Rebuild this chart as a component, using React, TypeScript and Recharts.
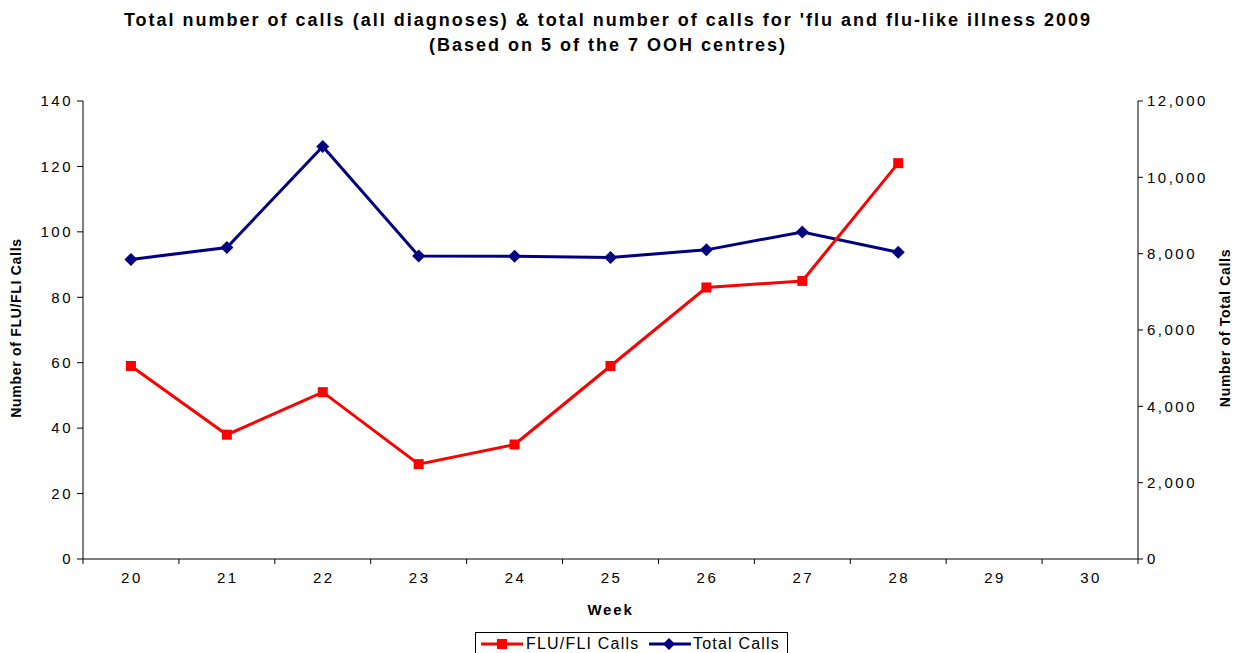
import React from 'react';
import { LineChart, Line, XAxis, YAxis } from 'recharts';

// Week numbers on the category axis
const WEEKS = [20, 21, 22, 23, 24, 25, 26, 27, 28, 29, 30];
// Tick marks sit between the weeks (Excel style)
const WEEK_BOUNDARIES = [19.5, 20.5, 21.5, 22.5, 23.5, 24.5, 25.5, 26.5, 27.5, 28.5, 29.5, 30.5];

// Series values (no data yet for weeks 29-30)
const FLU_CALLS = [59, 38, 51, 29, 35, 59, 83, 85, 121, null, null];
const TOTAL_CALLS = [7850, 8160, 10810, 7940, 7935, 7900, 8100, 8570, 8035, null, null];

const LEFT_TICKS = [0, 20, 40, 60, 80, 100, 120, 140];
const RIGHT_TICKS = [0, 2000, 4000, 6000, 8000, 10000, 12000];

const FONT = '"Liberation Sans", Arial, Helvetica, sans-serif';
const RED = '#FF0000';
const NAVY = '#000080';

const data = WEEKS.map((week, i) => ({
  week,
  flu: FLU_CALLS[i],
  total: TOTAL_CALLS[i]
}));

const tickStyle = { fill: '#000', fontSize: 15, fontFamily: FONT, letterSpacing: 2.5 };

const SquareDot = (props: any) => {
  const { cx, cy, index } = props;
  if (cx == null || cy == null) return null;
  return <rect key={`sq-${index}`} x={cx - 5} y={cy - 5} width={10} height={10} fill={RED} />;
};

const DiamondDot = (props: any) => {
  const { cx, cy, index } = props;
  if (cx == null || cy == null) return null;
  return (
    <polygon
      key={`dm-${index}`}
      points={`${cx},${cy - 6.5} ${cx + 6.5},${cy} ${cx},${cy + 6.5} ${cx - 6.5},${cy}`}
      fill={NAVY}
    />
  );
};

// rotated axis titles, placed inside the axis area
const axisTitle = (text: string, dx: number) => (props: any) => {
  const { viewBox } = props;
  const x = viewBox.x + dx;
  const y = viewBox.y + viewBox.height / 2 - 2;
  return (
    <text
      x={x}
      y={y}
      transform={`rotate(-90 ${x} ${y})`}
      textAnchor="middle"
      dominantBaseline="central"
      fontSize={14}
      fontWeight="bold"
      fontFamily={FONT}
      letterSpacing={0.7}
      fill="#000"
    >
      {text}
    </text>
  );
};

const legendText = { position: 'absolute' as const, top: 0, lineHeight: '22px', fontSize: 16, letterSpacing: 1.2 };

const LegendBox = () => (
  <div
    style={{
      position: 'absolute',
      left: 475,
      top: 632,
      width: 313,
      height: 30,
      border: '1px solid #000',
      background: '#fff',
      fontFamily: FONT,
      color: '#000',
      boxSizing: 'border-box'
    }}
  >
    <svg width={44} height={14} style={{ position: 'absolute', left: 4, top: 4 }}>
      <line x1={1} y1={7} x2={43} y2={7} stroke={RED} strokeWidth={3} />
      <rect x={17} y={2} width={10} height={10} fill={RED} />
    </svg>
    <span style={{ ...legendText, left: 50 }}>FLU/FLI Calls</span>
    <svg width={44} height={14} style={{ position: 'absolute', left: 172, top: 4 }}>
      <line x1={1} y1={7} x2={43} y2={7} stroke={NAVY} strokeWidth={3} />
      <polygon points="21,1 27,7 21,13 15,7" fill={NAVY} />
    </svg>
    <span style={{ ...legendText, left: 217 }}>Total Calls</span>
  </div>
);

export default function App() {
  return (
    <div style={{ position: 'absolute', left: 0, top: 0, width: 1239, height: 653, background: '#fff', overflow: 'hidden' }}>
      <div
        style={{
          position: 'absolute',
          left: 0,
          top: 8,
          width: 1216,
          textAlign: 'center',
          fontFamily: FONT,
          fontWeight: 'bold',
          fontSize: 18,
          letterSpacing: 2,
          lineHeight: '25px',
          color: '#000'
        }}
      >
        <div>Total number of calls (all diagnoses) &amp; total number of calls for 'flu and flu-like illness 2009</div>
        <div>(Based on 5 of the 7 OOH centres)</div>
      </div>

      <LineChart
        width={1239}
        height={653}
        data={data}
        margin={{ top: 101, right: 0, bottom: 38, left: 0 }}
        style={{ position: 'absolute', left: 0, top: 0 }}
      >
        <XAxis
          xAxisId="grid"
          dataKey="week"
          type="number"
          domain={[19.5, 30.5]}
          ticks={WEEK_BOUNDARIES}
          tickFormatter={() => ''}
          height={1}
          axisLine={{ stroke: '#000', strokeWidth: 1 }}
          tickLine={{ stroke: '#000', strokeWidth: 1 }}
          tickSize={5}
          allowDataOverflow
        />
        <XAxis
          xAxisId="labels"
          dataKey="week"
          type="number"
          domain={[19.5, 30.5]}
          ticks={WEEKS}
          height={55}
          axisLine={false}
          tickLine={false}
          tickSize={0}
          tickMargin={12}
          tick={{ ...tickStyle, dx: 1 }}
          allowDataOverflow
          label={{
            value: 'Week',
            position: 'insideBottom',
            offset: 0,
            style: { fontSize: 15, fontWeight: 'bold', fontFamily: FONT, fill: '#000', letterSpacing: 1.8 }
          }}
        />
        <YAxis
          yAxisId="left"
          orientation="left"
          domain={[0, 140]}
          ticks={LEFT_TICKS}
          width={83}
          axisLine={{ stroke: '#000', strokeWidth: 1 }}
          tickLine={{ stroke: '#000', strokeWidth: 1 }}
          tickSize={6}
          tickMargin={4}
          tick={tickStyle}
          label={axisTitle('Number of FLU/FLI Calls', 16)}
        />
        <YAxis
          yAxisId="right"
          orientation="right"
          domain={[0, 12000]}
          ticks={RIGHT_TICKS}
          width={101}
          axisLine={{ stroke: '#000', strokeWidth: 1 }}
          tickLine={{ stroke: '#000', strokeWidth: 1 }}
          tickSize={5}
          tickMargin={4}
          tick={tickStyle}
          tickFormatter={(v: number) => v.toLocaleString('en-US')}
          label={axisTitle('Number of Total Calls', 87)}
        />
        <Line
          xAxisId="grid"
          yAxisId="right"
          dataKey="total"
          name="Total Calls"
          type="linear"
          stroke={NAVY}
          strokeWidth={3}
          dot={DiamondDot}
          activeDot={false}
          connectNulls={false}
          isAnimationActive={false}
        />
        <Line
          xAxisId="grid"
          yAxisId="left"
          dataKey="flu"
          name="FLU/FLI Calls"
          type="linear"
          stroke={RED}
          strokeWidth={3}
          dot={SquareDot}
          activeDot={false}
          connectNulls={false}
          isAnimationActive={false}
        />
      </LineChart>

      <LegendBox />
    </div>
  );
}
